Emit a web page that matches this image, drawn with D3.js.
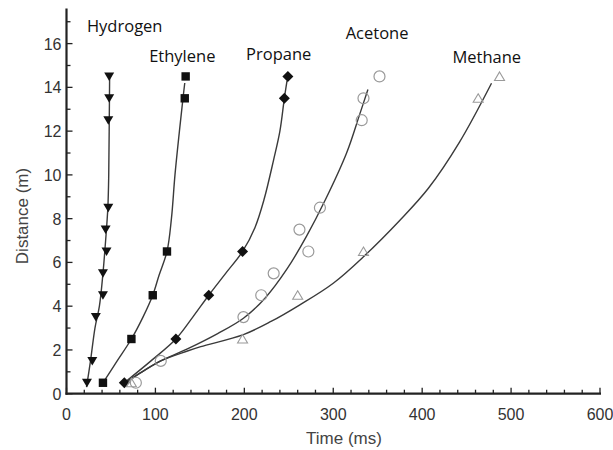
<!DOCTYPE html>
<html>
<head>
<meta charset="utf-8">
<script src="https://cdn.jsdelivr.net/npm/d3@7"></script>
<style>
  html, body { margin: 0; padding: 0; background: #fff; }
  svg { display: block; }
</style>
</head>
<body>
<svg id="chart" width="613" height="450"></svg>
<script>
// Measured points: [time (ms), distance (m)]
const hydrogen = [[23,0.5],[29,1.5],[33,3.5],[41,4.5],[41,5.5],[45,6.5],[44,7.5],[47,8.5],[47,12.5],[48,13.5],[48,14.5]];
const ethylene = [[41,0.5],[73,2.5],[97,4.5],[113,6.5],[133,13.5],[134,14.5]];
const propane  = [[65,0.5],[123,2.5],[160,4.5],[198,6.5],[245,13.5],[249,14.5]];
const acetone  = [[78,0.5],[106,1.5],[199,3.5],[219,4.5],[233,5.5],[272,6.5],[262,7.5],[285,8.5],[332,12.5],[334,13.5],[352,14.5]];
const methane  = [[73,0.5],[198,2.5],[260,4.5],[334,6.5],[463,13.5],[487,14.5]];

// Fitted trend curves: [time (ms), distance (m)]
const hydrogenFit = [[22.5,0.3],[27,1.5],[32,3],[37,4],[41,5.5],[44,7],[46.5,8.5],[47.5,10],[48,12],[48.5,14.5]];
const ethyleneFit = [[41,0.5],[57,1.5],[73,2.5],[86,3.5],[97,4.5],[104,5.4],[113,6.5],[118,8],[122,10],[127,12],[131,13.5],[133,14.2]];
const propaneFit  = [[65,0.5],[95,1.5],[123,2.5],[142,3.5],[160,4.5],[179,5.5],[198,6.5],[212,7.6],[222,8.85],[233,10.7],[240,12],[245,13.5],[248,14.3]];
const acetoneFit  = [[68,0.55],[85,1.0],[106,1.5],[136,2.05],[170,2.75],[199,3.45],[224,4.4],[248,5.7],[270,7.2],[291,8.85],[315,11],[330,12.8],[339,13.9]];
const methaneFit  = [[68,0.55],[85,1.0],[106,1.5],[136,1.95],[151,2.15],[199,2.7],[230,3.3],[262,4.05],[300,5.05],[334,6.26],[375,7.93],[407,9.39],[442,11.5],[478,14.19]];

// Series names and where their labels sit: [time, distance] of the label's left baseline
const seriesNames = ["Hydrogen","Ethylene","Propane","Acetone","Methane"];
const labelAnchors = [[23,16.55],[93,15.15],[202,15.25],[314,16.2],[434,15.1]];

// Axis ticks
const xMajorTicks = [0,100,200,300,400,500,600];
const yMajorTicks = [0,2,4,6,8,10,12,14,16];

const svg = d3.select("#chart");
const x = d3.scaleLinear().domain([0, 600]).range([66.5, 600]);
const y = d3.scaleLinear().domain([0, 17.6]).range([393.7, 8.6]);

// Trend curves
const line = d3.line().x(d => x(d[0])).y(d => y(d[1])).curve(d3.curveCatmullRom.alpha(0.5));
const curveColor = "#3a3a3a";
[hydrogenFit, ethyleneFit, propaneFit, acetoneFit, methaneFit].forEach(fit => {
  svg.append("path").datum(fit).attr("d", line)
    .attr("fill", "none").attr("stroke", curveColor).attr("stroke-width", 1.4);
});

// Markers
const g = svg.append("g");
g.selectAll(".h").data(hydrogen).join("path")
  .attr("transform", d => `translate(${x(d[0])},${y(d[1])})`)
  .attr("d", "M-5,-4L5,-4L0,4.5Z").attr("fill", "#111");
g.selectAll(".e").data(ethylene).join("rect")
  .attr("x", d => x(d[0]) - 4.2).attr("y", d => y(d[1]) - 4.2)
  .attr("width", 8.4).attr("height", 8.4).attr("fill", "#111");
g.selectAll(".p").data(propane).join("path")
  .attr("transform", d => `translate(${x(d[0])},${y(d[1])})`)
  .attr("d", "M0,-5.5L5.5,0L0,5.5L-5.5,0Z").attr("fill", "#111");
g.selectAll(".a").data(acetone).join("circle")
  .attr("cx", d => x(d[0])).attr("cy", d => y(d[1])).attr("r", 5.5)
  .attr("fill", "none").attr("stroke", "#9a9a9a").attr("stroke-width", 1.2);
g.selectAll(".m").data(methane).join("path")
  .attr("transform", d => `translate(${x(d[0])},${y(d[1])})`)
  .attr("d", "M0,-4.5L5,4L-5,4Z")
  .attr("fill", "none").attr("stroke", "#9a9a9a").attr("stroke-width", 1.1);

// Axes with inward ticks
const axisColor = "#222";
const xAxis = svg.append("g");
xAxis.append("line").attr("x1", x(0) - 1).attr("x2", x(600) + 1)
  .attr("y1", y(0)).attr("y2", y(0)).attr("stroke", axisColor).attr("stroke-width", 2.2);
xAxis.selectAll(".xt").data(d3.range(0, 601, 20)).join("line")
  .attr("x1", d => x(d)).attr("x2", d => x(d))
  .attr("y1", y(0)).attr("y2", d => y(0) - (d % 100 === 0 ? 6 : 4))
  .attr("stroke", axisColor).attr("stroke-width", 1.3);
xAxis.selectAll(".xl").data(xMajorTicks).join("text")
  .attr("x", d => x(d)).attr("y", y(0) + 26)
  .attr("text-anchor", "middle")
  .attr("font-family", "'Liberation Sans', Arial, sans-serif").attr("font-size", 16)
  .attr("fill", "#333").text(d => d);

const yAxis = svg.append("g");
yAxis.append("line").attr("x1", x(0)).attr("x2", x(0))
  .attr("y1", y(0) + 1).attr("y2", y(17.6)).attr("stroke", axisColor).attr("stroke-width", 2.2);
yAxis.selectAll(".yt").data(d3.range(0, 18, 1)).join("line")
  .attr("x1", x(0)).attr("x2", d => x(0) + (d % 2 === 0 ? 6 : 4))
  .attr("y1", d => y(d)).attr("y2", d => y(d))
  .attr("stroke", axisColor).attr("stroke-width", 1.3);
yAxis.selectAll(".yl").data(yMajorTicks).join("text")
  .attr("x", x(0) - 5).attr("y", d => y(d) + 6)
  .attr("text-anchor", "end")
  .attr("font-family", "'Liberation Sans', Arial, sans-serif").attr("font-size", 16)
  .attr("fill", "#333").text(d => d);

// Axis titles
svg.append("text").attr("x", 344).attr("y", 444).attr("text-anchor", "middle")
  .attr("font-family", "'Liberation Sans', Arial, sans-serif").attr("font-size", 17)
  .attr("fill", "#444").text("Time (ms)");
svg.append("text").attr("transform", "translate(28,216) rotate(-90)").attr("text-anchor", "middle")
  .attr("font-family", "'Liberation Sans', Arial, sans-serif").attr("font-size", 17)
  .attr("fill", "#444").text("Distance (m)");

// Series labels
svg.selectAll(".lab").data(seriesNames).join("text")
  .attr("x", (d, i) => x(labelAnchors[i][0])).attr("y", (d, i) => y(labelAnchors[i][1]))
  .attr("font-family", "'Open Sans', sans-serif").attr("font-size", 16.5)
  .attr("fill", "#111").text(d => d);
</script>
</body>
</html>
